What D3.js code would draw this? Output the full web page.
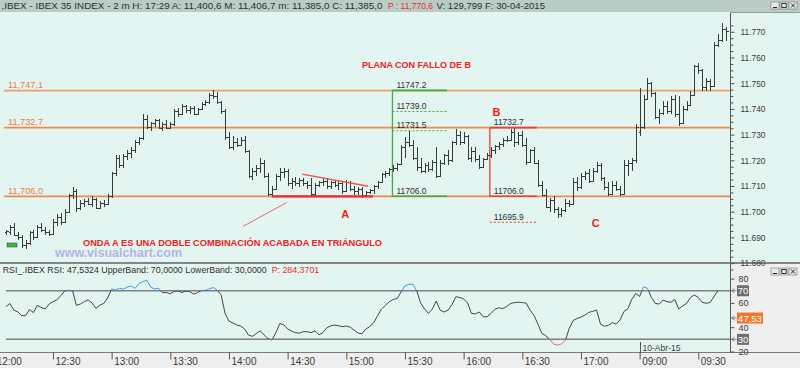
<!DOCTYPE html>
<html><head><meta charset="utf-8">
<script src="https://cdn.jsdelivr.net/npm/d3@7/dist/d3.min.js"></script>
<style>
body{margin:0;background:#e3f5f0;overflow:hidden}
svg{display:block;font-family:"Liberation Sans",Arial,sans-serif}
</style></head><body>
<script>
// ---------------- DATA ----------------
const firstIndex = 3; // first bar = 12:06 (2-minute bars counted from 12:00, day 1)
const opens = [11692,11692,11694,11691,11690,11687,11688,11692,11690,11694,11693,11692,11691.5,11696,11698,11696,11700,11706.5,11708,11701.5,11703.5,11704,11703,11705,11701.5,11703.5,11703,11706,11715,11721,11718,11721.5,11723,11724,11727,11728.5,11736,11733,11734.5,11735.5,11732.5,11734,11732.5,11734,11739,11738,11741,11739.5,11740.5,11738,11740,11742,11742.5,11745.5,11745,11742.5,11739,11729,11725,11727,11726,11728,11723.5,11714,11716,11717,11719,11714,11707,11709,11714,11715.5,11716,11711,11712,11711,11712.5,11711,11710.5,11707,11710.5,11711.5,11712,11710,11711.5,11710.5,11711,11708,11711.5,11709,11708,11709,11706.5,11707.5,11708.5,11710,11711.5,11714.5,11715,11716.5,11717,11718.5,11725,11727,11726,11721,11717.5,11716,11718,11716.5,11719.5,11714,11719,11722,11720,11727,11730,11727,11729.5,11721,11723.5,11720.5,11717.5,11720.5,11722,11724,11725.5,11726.5,11728,11728,11731,11727,11730,11726,11719.5,11724,11719,11710.5,11706.5,11702,11704.5,11701,11699,11700.5,11703.5,11703,11711.5,11709.5,11714,11715,11712,11716,11718,11713,11709.5,11707,11710.5,11709,11707,11718,11719,11720,11731,11733,11744,11750,11746,11737,11738.5,11741,11739,11744,11738,11734.5,11740,11741.5,11745.5,11756.5,11755,11748.5,11751,11749,11765,11767,11771];
const highs = [11693,11695,11695.5,11692,11691,11689,11692.5,11693,11695,11695.5,11694,11693,11697,11699,11699.5,11701,11707,11709.5,11709,11704.5,11705,11705.5,11706,11705.5,11704,11704.5,11707,11715.5,11722,11722,11722.5,11724,11725,11728,11729,11738,11737.5,11735,11736,11736,11735,11735.5,11735,11740,11740.5,11742,11741.5,11741,11741,11740.5,11742.5,11743.5,11746,11747.5,11746.5,11743,11740,11731,11729.5,11728.5,11729,11729.5,11724,11717,11718,11721,11720,11715,11710,11714.5,11717,11717,11716.5,11713,11713.5,11713,11713,11712,11713,11711,11712,11713,11713,11712,11712.5,11712,11711.5,11712.5,11712,11710,11709.5,11709.5,11708,11709,11710.5,11712,11715,11716,11717,11718,11719,11726,11729,11731.5,11728,11725,11721,11719,11719.5,11720,11725,11720,11722.5,11724,11727.5,11732,11731.5,11731,11730,11725,11725,11722,11721,11723,11725,11726,11727,11728.5,11729.5,11732,11732.5,11731,11731.5,11728.5,11724.5,11725,11720,11712,11709,11705.5,11706,11702,11701.5,11705,11704.5,11713,11713.5,11715,11716,11716.5,11717,11719.5,11719,11713.5,11711.5,11712,11712,11710,11720,11720,11721,11734,11748,11745.5,11752,11750.5,11746.5,11740,11743,11743,11745,11745.5,11745,11741,11743,11747,11757,11758,11755.5,11752,11751.5,11766,11769,11773.5,11772];
const lows = [11691,11691,11690.5,11689,11686,11685.5,11687,11689,11690,11692,11691,11690.5,11691,11694.5,11695,11695.5,11700,11705,11700,11700.5,11702,11702.5,11702,11701,11701,11702,11702.5,11705.5,11714,11717,11717,11720,11721,11723,11726,11728,11732,11731.5,11733,11732,11731.5,11732,11732,11733.5,11737,11737.5,11738.5,11738,11737.5,11737.5,11739.5,11741,11742,11744,11742,11738,11728,11724.5,11724,11725,11725.5,11723,11713,11712.5,11714,11715,11713,11706,11706,11708.5,11712,11713,11710,11709,11710,11709.5,11710,11709,11706,11706,11709.5,11710,11709,11709,11709.5,11708.5,11707,11707.5,11708,11706.5,11706.5,11705.5,11706,11707,11707,11709,11711,11713,11714,11715.5,11716,11718,11721,11725,11720,11716,11715,11715,11715.5,11716,11713,11713.5,11718,11718,11719.5,11726,11726,11726.5,11720,11719.5,11719.5,11716.5,11717,11720,11721,11722.5,11724,11725,11727,11727.5,11725,11726,11725,11718,11719,11718.5,11709.5,11706,11701.5,11700,11699.5,11697.5,11698,11700,11702,11702.5,11708,11709,11712.5,11711,11711.5,11715,11712,11708.5,11706,11706.5,11708,11706,11706.5,11714,11716,11719,11729.5,11732,11744,11744.5,11736,11734,11737.5,11738,11738,11737,11733.5,11734,11739,11741,11745,11753.5,11747,11747,11747,11748.5,11764,11766,11766.5];
const closes = [11692.5,11694,11691,11690,11687,11688,11692,11690,11694,11693,11692,11691.5,11696,11698,11696,11700,11706.5,11708,11701.5,11703.5,11704,11703,11705,11701.5,11703.5,11703,11706,11715,11721,11718,11721.5,11723,11724,11727,11728.5,11736,11733,11734.5,11735.5,11732.5,11734,11732.5,11734,11739,11738,11741,11739.5,11740.5,11738,11740,11742,11742.5,11745.5,11745,11742.5,11739,11729,11725,11727,11726,11728,11723.5,11714,11716,11717,11719,11714,11707,11709,11714,11715.5,11716,11711,11712,11711,11712.5,11711,11710.5,11707,11710.5,11711.5,11712,11710,11711.5,11710.5,11711,11708,11711.5,11709,11708,11709,11706.5,11707.5,11708.5,11710,11711.5,11714.5,11715,11716.5,11717,11718.5,11725,11727,11726,11721,11717.5,11716,11718,11716.5,11719.5,11714,11719,11722,11720,11727,11730,11727,11729.5,11721,11723.5,11720.5,11717.5,11720.5,11722,11724,11725.5,11726.5,11728,11728,11731,11727,11730,11726,11719.5,11724,11719,11710.5,11706.5,11702,11704.5,11701,11699,11700.5,11703.5,11703,11711.5,11709.5,11714,11715,11712,11716,11718,11713,11709.5,11707,11710.5,11709,11707,11718,11719,11720,11733,11733,11744,11750,11746,11737,11738.5,11741,11739,11744,11738,11734.5,11740,11741.5,11745.5,11756.5,11755,11748.5,11751,11749,11765,11767,11771,11770.5];
const rsiValues = [57,59.5,54,52.7,49.5,49.5,54.5,52,58,56.3,55,59,61,62.5,66,69.8,70.5,70,58,59,61,62.5,60,55.5,58.2,59.6,64,71.5,70.5,72,71.3,73,73.9,72,76,77.5,78.8,73,71.5,72,68.5,68.5,67.5,69.5,69.8,68.6,69.8,69.2,67.2,68.6,70.2,70.3,71.5,72.7,70.4,66.6,51.4,45,43.5,41.8,41,38.5,33.5,32.5,34.8,37,33.6,30.5,29.4,35.5,43,42,38.5,36.8,35.5,35.1,36.3,36.3,35.5,37,33.8,35.5,39.5,41,41.8,41.2,40.4,41,40,37.6,35.2,34.6,38.5,40.6,43.5,49.5,55,58,61,62.8,63.6,69,74,75.2,75.5,70,60,55,51.4,55,61.5,54,52.5,54,58.5,65,64.5,63.3,60,51.4,50.9,52.5,48.6,48.5,51.4,54.7,56,55.3,57,59.5,60.3,60.5,60.3,59.8,54,49.7,42.5,35,33,30,26.1,25.3,26.2,29,39,45.5,47.2,48.4,50,52.2,53,54.1,42.5,40.8,41.5,43.8,42.5,46,53,55.3,63,67.7,65.3,73.2,72,64.5,59.6,59,62.3,61,60.5,62.8,55,57.5,59.6,64.5,66.5,64.5,60.5,59.7,60.3,65,70,null,null];
const priceTicks = [11680,11690,11700,11710,11720,11730,11740,11750,11760,11770];
const rsiTicks = [80,60,40,20];
const timeTicks = ["12:00","12:30","13:00","13:30","14:00","14:30","15:00","15:30","16:00","16:30","17:00","09:00","09:30"];
const levelValues = [11747.1, 11732.7, 11706.0];
const levelLabels = ["11,747,1", "11,732,7", "11,706,0"];
const greenBox = {from: 101.8, to: 115.7, high: 11747.2, low: 11706.0, dashes: [11739.0, 11731.5]};
const greenLabels = ["11747.2", "11739.0", "11731.5", "11706.0"];
const redBox = {from: 126.7, to: 138.7, high: 11732.7, low: 11706.0, dash: 11695.9};
const redLabels = ["11732.7", "11706.0", "11695.9"];
const triangleTop = [[78.7, 11714.6], [95.6, 11709.9]];
const triangleBase = [[71, 11706.0], [96.8, 11706.0]];
const waveLine = [[63.6, 11694.3], [74.8, 11703.6]];
const waveLetters = [{t: "A", i: 89.7, v: 11699.1}, {t: "B", i: 128.4, v: 11738.6}, {t: "C", i: 153.8, v: 11695.7}];
const rsiBands = [70, 30];

// ---------------- HELPERS ----------------
const W = 800, H = 368;
const barIdx = closes.map((d, k) => k + firstIndex);
function timeIndex(t) { const [h, m] = t.split(":").map(Number); const mins = h * 60 + m; return h >= 12 ? (mins - 720) / 2 : 165 + (mins - 540) / 2; }

const x = d3.scaleLinear().domain([0, 180]).range([-5.7, 698.3]);
const y = d3.scaleLinear().domain([11680, 11770]).range([263.1, 31.8]);
const yr = d3.scaleLinear().domain([20, 80]).range([351.5, 278.6]);
const AX = 730.5;

const svg = d3.select("body").append("svg").attr("width", W).attr("height", H);
// backgrounds
svg.append("rect").attr("width", W).attr("height", H).attr("fill", "#e3f5f0");
svg.append("rect").attr("width", W).attr("height", 12).attr("fill", "#b9cdc6");
svg.append("rect").attr("x", 731).attr("y", 264).attr("width", 69).attr("height", 89).attr("fill", "#efefef");
svg.append("rect").attr("x", 0).attr("y", 353).attr("width", W).attr("height", 15).attr("fill", "#efefef");
svg.append("line").attr("x1", 0).attr("x2", W).attr("y1", 263).attr("y2", 263).attr("stroke", "#858585").attr("stroke-width", 2);
svg.append("line").attr("x1", 0).attr("x2", W).attr("y1", 352.5).attr("y2", 352.5).attr("stroke", "#7a7a7a");
svg.append("line").attr("x1", 731).attr("x2", W).attr("y1", 12.5).attr("y2", 12.5).attr("stroke", "#9a9a9a");

// window buttons
function winButtons(y0) {
  const g = svg.append("g");
  [771, 780, 789].forEach((bx, k) => {
    g.append("rect").attr("x", bx).attr("y", y0).attr("width", 8).attr("height", 7).attr("fill", "#e8e8e8").attr("stroke", "#777").attr("stroke-width", 0.6);
    if (k === 0) g.append("line").attr("x1", bx + 2).attr("x2", bx + 6).attr("y1", y0 + 5.5).attr("y2", y0 + 5.5).attr("stroke", "#222");
    if (k === 1) g.append("rect").attr("x", bx + 1.8).attr("y", y0 + 1.5).attr("width", 4.4).attr("height", 4).attr("fill", "none").attr("stroke", "#222").attr("stroke-width", 0.9);
    if (k === 2) g.append("path").attr("d", `M${bx+2},${y0+1.5}L${bx+6},${y0+5.5}M${bx+6},${y0+1.5}L${bx+2},${y0+5.5}`).attr("stroke", "#222");
  });
}
winButtons(2); winButtons(268);

// header texts
function txt(s, x0, yb, opt = {}) {
  const t = svg.append("text").attr("x", x0).attr("y", yb).text(s)
    .attr("font-size", opt.size || 9).attr("fill", opt.fill || "#2e2e2e");
  if (opt.len) t.attr("textLength", opt.len).attr("lengthAdjust", "spacingAndGlyphs");
  if (opt.weight) t.attr("font-weight", opt.weight);
  if (opt.anchor) t.attr("text-anchor", opt.anchor);
  return t;
}
txt(",IBEX - IBEX 35 INDEX -  2 m H: 17:29 A: 11,400,6 M: 11,406,7 m: 11,385,0 C: 11,385,0", 1.5, 9, {len: 381});
txt("P : 11,770,6", 388, 9, {len: 45, fill: "#ee2b2b"});
txt("V: 129,799 F: 30-04-2015", 436.5, 9, {len: 108.5});
txt("RSI_.IBEX RSI: 47,5324 UpperBand: 70,0000 LowerBand: 30,0000", 2.7, 273, {len: 264});
txt("P: 284,3701", 271.7, 273, {len: 47.5, fill: "#ee2b2b"});

// ---------------- MAIN PANEL ----------------
svg.append("clipPath").attr("id", "cm").append("rect").attr("x", 0).attr("y", 13).attr("width", 730).attr("height", 249);
const main = svg.append("g").attr("clip-path", "url(#cm)");

// horizontal levels
const LEVEL = "#f4884c";
levelValues.forEach((v, k) => {
  main.append("line").attr("x1", 4).attr("x2", 730).attr("y1", y(v)).attr("y2", y(v)).attr("stroke", LEVEL).attr("stroke-width", 1.8).attr("opacity", k === 0 ? 0.8 : 1);
  txt(levelLabels[k], 8, y(v) - 2.5, {size: 9, fill: "#f07a40", len: 35});
});

// annotation boxes
const GREEN = "#3fae3f", RED = "#f03c3c";
const gx0 = x(greenBox.from), gx1 = x(greenBox.to);
main.append("line").attr("x1", gx0).attr("x2", gx0).attr("y1", y(greenBox.high)).attr("y2", y(greenBox.low)).attr("stroke", GREEN).attr("stroke-width", 1.3);
[greenBox.high, greenBox.low].forEach(v => main.append("line").attr("x1", gx0).attr("x2", gx1).attr("y1", y(v)).attr("y2", y(v)).attr("stroke", GREEN).attr("stroke-width", 1.6));
greenBox.dashes.forEach(v => main.append("line").attr("x1", gx0).attr("x2", gx1).attr("y1", y(v)).attr("y2", y(v)).attr("stroke", GREEN).attr("stroke-width", 1).attr("stroke-dasharray", "2,2"));
[greenBox.high, greenBox.dashes[0], greenBox.dashes[1], greenBox.low].forEach((v, k) => txt(greenLabels[k], gx0 + 4, y(v) - 2.5, {size: 9, fill: "#303030", len: 30}));

const rx0 = x(redBox.from), rx1 = x(redBox.to);
main.append("line").attr("x1", rx0).attr("x2", rx0).attr("y1", y(redBox.high)).attr("y2", y(redBox.low)).attr("stroke", RED).attr("stroke-width", 1.3);
[redBox.high, redBox.low].forEach(v => main.append("line").attr("x1", rx0).attr("x2", rx1).attr("y1", y(v)).attr("y2", y(v)).attr("stroke", RED).attr("stroke-width", 1.6));
main.append("line").attr("x1", rx0).attr("x2", rx1).attr("y1", y(redBox.dash)).attr("y2", y(redBox.dash)).attr("stroke", RED).attr("stroke-width", 1).attr("stroke-dasharray", "2,2");
[redBox.high, redBox.low, redBox.dash].forEach((v, k) => txt(redLabels[k], rx0 + 4, y(v) - 2.5, {size: 9, fill: "#303030", len: 30}));

// OHLC bars
const bars = main.append("g").attr("stroke", "#3b3b3b").attr("stroke-width", 1).attr("shape-rendering", "crispEdges");
barIdx.forEach((i, k) => {
  const cx = Math.round(x(i)) + 0.5;
  bars.append("line").attr("x1", cx).attr("x2", cx).attr("y1", y(highs[k])).attr("y2", y(lows[k]));
  bars.append("line").attr("x1", cx - 2).attr("x2", cx).attr("y1", Math.round(y(opens[k])) + 0.5).attr("y2", Math.round(y(opens[k])) + 0.5);
  bars.append("line").attr("x1", cx).attr("x2", cx + 2).attr("y1", Math.round(y(closes[k])) + 0.5).attr("y2", Math.round(y(closes[k])) + 0.5);
});

// trend annotations
const ln = d3.line().x(d => x(d[0])).y(d => y(d[1]));
main.append("path").attr("d", ln(triangleTop)).attr("stroke", "#f05050").attr("stroke-width", 1.3).attr("fill", "none");
main.append("path").attr("d", ln(triangleBase)).attr("stroke", "#f02a2a").attr("stroke-width", 2.2).attr("fill", "none");
main.append("path").attr("d", ln(waveLine)).attr("stroke", "#f06a6a").attr("stroke-width", 1).attr("fill", "none");
waveLetters.forEach(d => txt(d.t, x(d.i), y(d.v) + 4, {size: 11, weight: "bold", fill: "#f02020", anchor: "middle"}));

txt("PLANA CON FALLO DE B", 362, 68, {size: 9, weight: "bold", fill: "#f02020", len: 109});
txt("ONDA A ES UNA DOBLE COMBINACIÓN ACABADA EN TRIÁNGULO", 83, 246, {size: 9, weight: "bold", fill: "#f02020", len: 299});
txt("www.visualchart.com", 55, 256.5, {size: 12, weight: "bold", fill: "#b4b4e8", len: 127});
svg.append("rect").attr("x", 7).attr("y", 243).attr("width", 10).attr("height", 4).attr("fill", "#3cb43c").attr("stroke", "#2a6a2a").attr("stroke-width", 0.6);

// price axis
const yAxis = d3.axisRight(y).tickValues(priceTicks).tickSize(4).tickPadding(6).tickFormat(d => d3.format(",")(d).replace(",", "."));
const ga = svg.append("g").attr("transform", `translate(${AX},0)`).call(yAxis);
const minor = d3.range(11677.5, 11775, 2.5).filter(v => v % 10 !== 0);
svg.append("g").attr("transform", `translate(${AX},0)`).call(d3.axisRight(y).tickValues(minor).tickSize(3).tickFormat(""));
svg.selectAll(".domain").remove();
svg.append("line").attr("x1", AX).attr("x2", AX).attr("y1", 12.5).attr("y2", 263).attr("stroke", "#555");
ga.selectAll("text").attr("font-size", 9).attr("fill", "#3a3a3a").attr("font-family", "Liberation Sans, Arial").attr("textLength", 25).attr("lengthAdjust", "spacingAndGlyphs");
svg.selectAll(".tick line").attr("stroke", "#555");

// ---------------- RSI PANEL ----------------
rsiBands.forEach(v => svg.append("line").attr("x1", 6).attr("x2", 730).attr("y1", yr(v)).attr("y2", yr(v)).attr("stroke", "#808080").attr("stroke-width", 1.5));
const rsiLine = d3.line().defined(d => d != null).x((d, k) => x(barIdx[k])).y(d => yr(d));
const defs = svg.append("defs");
defs.append("clipPath").attr("id", "rHi").append("rect").attr("x", 0).attr("y", 264).attr("width", 730).attr("height", yr(70) - 264);
defs.append("clipPath").attr("id", "rMid").append("rect").attr("x", 0).attr("y", yr(70)).attr("width", 730).attr("height", yr(30) - yr(70));
defs.append("clipPath").attr("id", "rLo").append("rect").attr("x", 0).attr("y", yr(30)).attr("width", 730).attr("height", 353 - yr(30));
[["rHi", "#3d9ae8"], ["rMid", "#454545"], ["rLo", "#f06a6a"]].forEach(([c, col]) =>
  svg.append("path").attr("d", rsiLine(rsiValues)).attr("clip-path", `url(#${c})`).attr("fill", "none").attr("stroke", col).attr("stroke-width", 1));

svg.append("line").attr("x1", AX).attr("x2", AX).attr("y1", 264).attr("y2", 353).attr("stroke", "#555");
const ra = svg.append("g").attr("transform", `translate(${AX},0)`).call(d3.axisRight(yr).tickValues(rsiTicks).tickSize(4).tickPadding(4));
ra.select(".domain").remove();
ra.selectAll("text").attr("font-size", 9).attr("fill", "#3a3a3a").attr("font-family", "Liberation Sans, Arial");
ra.selectAll("line").attr("stroke", "#555");
// value badges
[[70, "70", "#6e6e6e", 12], [47.53, "47,53", "#f2752e", 26], [30, "30", "#6e6e6e", 12]].forEach(([v, s, col, w]) => {
  const cy = yr(v);
  svg.append("path").attr("d", `M${AX+1},${cy}l3,-2M${AX+1},${cy}l3,2M${AX+1},${cy}h5`).attr("stroke", "#666").attr("stroke-width", 0.8).attr("fill", "none");
  svg.append("rect").attr("x", 737).attr("y", cy - 5.5).attr("width", w).attr("height", 11).attr("fill", col);
  txt(s, 737 + w / 2, cy + 3.5, {size: 9.5, fill: "#fff", anchor: "middle"});
});

// ---------------- TIME AXIS ----------------
const xa = svg.append("g").attr("transform", "translate(0,352.5)")
  .call(d3.axisBottom(x).tickValues(timeTicks.map(timeIndex)).tickSize(7).tickFormat((d, k) => timeTicks[k]));
xa.select(".domain").remove();
xa.selectAll("line").attr("stroke", "#555");
xa.selectAll("text").attr("text-anchor", "start").attr("dx", 2).attr("y", 5).attr("dy", "0.71em").attr("font-size", 10).attr("fill", "#3a3a3a").attr("font-family", "Liberation Sans, Arial");
// day separator
const dx9 = Math.round(x(timeIndex("09:00"))) + 0.5;
svg.append("line").attr("x1", dx9).attr("x2", dx9).attr("y1", 342).attr("y2", 353).attr("stroke", "#555");
txt("10-Abr-15", dx9 + 2, 350.5, {size: 9, fill: "#3a3a3a", len: 38});
</script>
</body></html>
